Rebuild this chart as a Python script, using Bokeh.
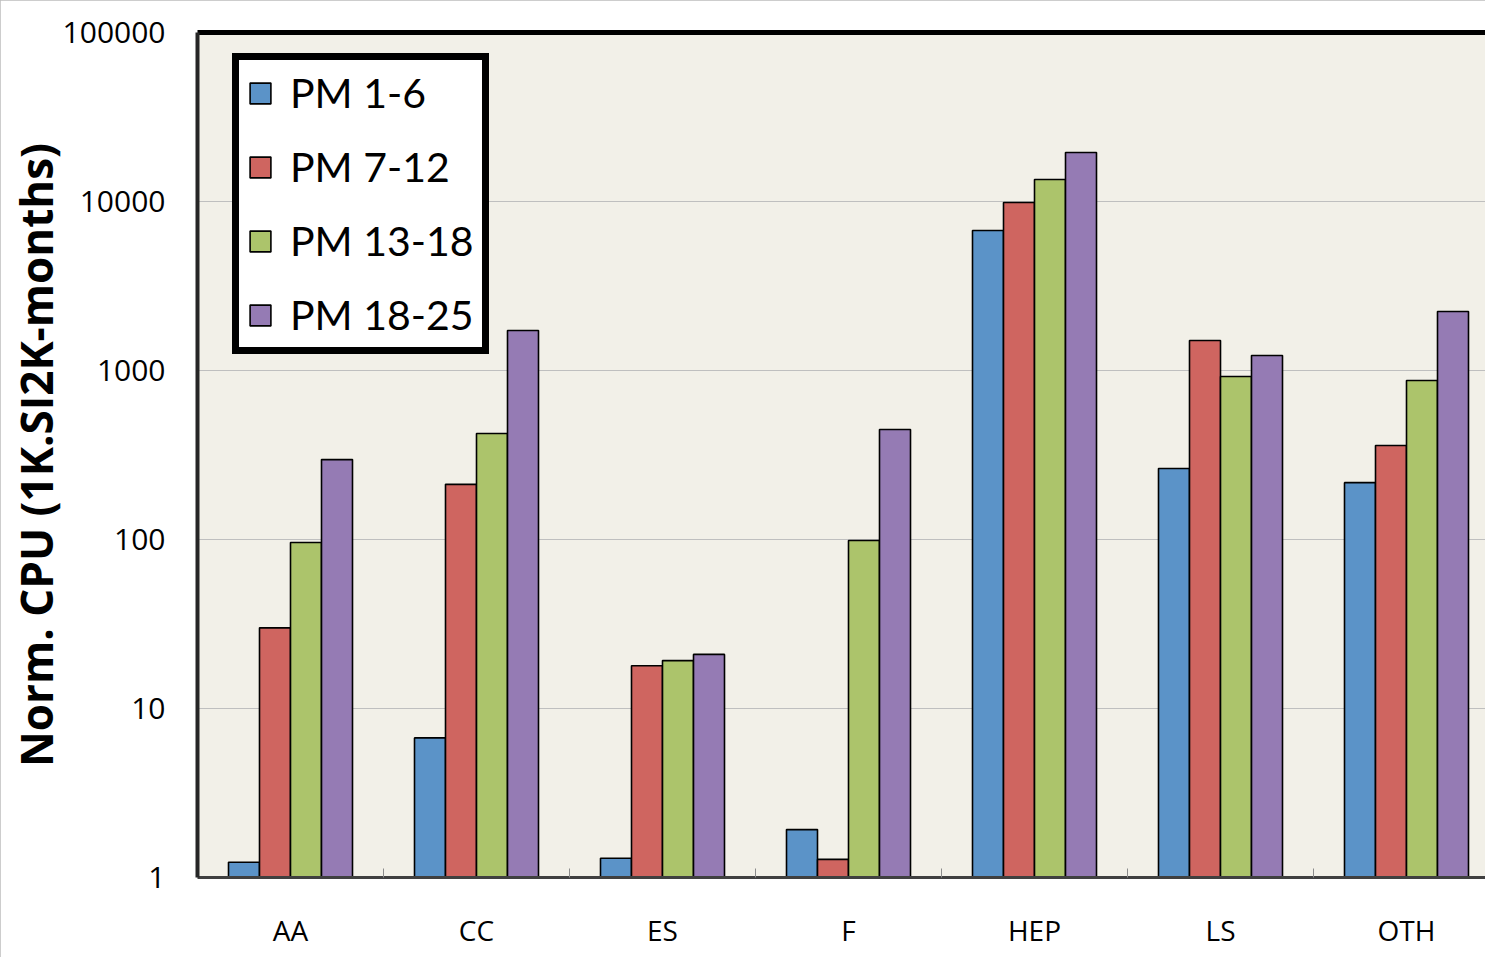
from bokeh.plotting import figure
from bokeh.models import Range1d, FixedTicker, LinearAxis, Legend, LegendItem, ColumnDataSource
from bokeh.embed import file_html
from bokeh.resources import INLINE

categories = ["AA", "CC", "ES", "F", "HEP", "LS", "OTH"]
series_names = ["PM 1-6", "PM 7-12", "PM 13-18", "PM 18-25"]
pm_1_6 = [1.23, 6.7, 1.3, 1.92, 6735, 263, 217]
pm_7_12 = [30, 212, 17.9, 1.28, 9865, 1505, 360]
pm_13_18 = [96, 424, 19.2, 98.6, 13490, 921, 873]
pm_18_25 = [297, 1725, 20.9, 448, 19500, 1227, 2234]
y_ticks = [1, 10, 100, 1000, 10000, 100000]
y_tick_labels = ["1", "10", "100", "1000", "10000", "100000"]
colors = ["#5b93c8", "#cf6560", "#acc46b", "#957bb4"]

FONT = "Open Sans"
LEGEND_FONT = "Lato"
W, H = 1485, 957
LEFT = 197
frame_w = W - LEFT
cat_px = 186.0

p = figure(width=W, height=H, output_backend="svg", toolbar_location=None,
           x_range=Range1d(0, frame_w / cat_px), y_range=Range1d(1, 100000),
           y_axis_type="log", min_border_left=LEFT, min_border_top=32,
           min_border_bottom=80, min_border_right=0,
           background_fill_color="#f2f0e8", border_fill_color="white",
           outline_line_color=None)
p.styles = {"outline": "1px solid #bdbdbd", "outline-offset": "-1px"}

items = []
all_series = [pm_1_6, pm_7_12, pm_13_18, pm_18_25]
for j, (name, vals) in enumerate(zip(series_names, all_series)):
    xs = [i + 0.5 + (j - 1.5) / 6.0 for i in range(len(categories))]
    src = ColumnDataSource(dict(x=xs, top=vals))
    r = p.vbar(x="x", top="top", bottom=1, width=1 / 6.0, source=src,
               fill_color=colors[j], line_color="black", line_width=1.6)
    items.append(LegendItem(label=name, renderers=[r]))

# x axis
centers = [i + 0.5 for i in range(len(categories))]
bounds = [float(i) for i in range(len(categories) + 1)]
xa = p.xaxis[0]
xa.ticker = FixedTicker(ticks=centers, minor_ticks=bounds)
xa.major_label_overrides = {c: lab for c, lab in zip(centers, categories)}
xa.major_tick_line_color = None
xa.major_tick_in = 0
xa.major_tick_out = 0
xa.minor_tick_in = 9
xa.minor_tick_out = 0
xa.minor_tick_line_color = "#8c8c8c"
xa.axis_line_color = "#404040"
xa.axis_line_width = 3
xa.major_label_standoff = 33
xa.major_label_text_font = FONT
xa.major_label_text_font_size = "28px"
xa.major_label_text_color = "black"

# y axis
ya = p.yaxis[0]
ya.ticker = FixedTicker(ticks=y_ticks, minor_ticks=[])
ya.major_label_overrides = {t: lab for t, lab in zip(y_ticks, y_tick_labels)}
ya.major_tick_line_color = None
ya.major_tick_in = 0
ya.major_tick_out = 0
ya.minor_tick_line_color = None
ya.axis_line_color = "#262626"
ya.axis_line_width = 4
ya.major_label_standoff = 32
ya.major_label_text_font = FONT
ya.major_label_text_font_size = "30px"
ya.major_label_text_color = "black"
ya.axis_label = "Norm. CPU (1K.SI2K-months)"
ya.axis_label_text_font = FONT
ya.axis_label_text_font_style = "bold"
ya.axis_label_text_font_size = "44px"
ya.axis_label_text_color = "black"
ya.axis_label_standoff = -6

# top border line
top_axis = LinearAxis(ticker=FixedTicker(ticks=[]), axis_line_color="black",
                      axis_line_width=5, major_tick_line_color=None,
                      minor_tick_line_color=None, major_label_standoff=0)
p.add_layout(top_axis, "above")

p.xgrid.visible = False
p.ygrid.ticker = FixedTicker(ticks=y_ticks)
p.ygrid.grid_line_color = "#bfbfbf"
p.ygrid.grid_line_width = 1

legend = Legend(items=items, location=(35, 523), margin=0, padding=8,
                spacing=25, label_standoff=17, glyph_width=26, glyph_height=26,
                label_height=40, label_text_font=LEGEND_FONT,
                label_text_font_size="41px",
                label_text_color="black", border_line_color="black",
                border_line_alpha=1.0, border_line_width=7,
                background_fill_color="white", background_fill_alpha=1.0)
p.add_layout(legend)

open("out.html", "w").write(file_html(p, INLINE))
